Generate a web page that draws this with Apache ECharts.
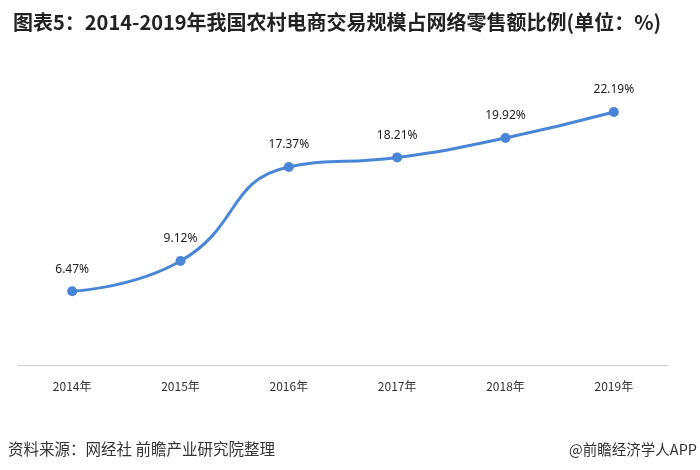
<!DOCTYPE html>
<html>
<head>
<meta charset="utf-8">
<script src="https://cdn.jsdelivr.net/npm/echarts@6/dist/echarts.min.js"></script>
<style>
  html, body { margin: 0; padding: 0; background: #fff; }
  #chart { width: 700px; height: 470px; }
</style>
</head>
<body>
<div id="chart"></div>
<script>
// 数据
var years = ['2014年', '2015年', '2016年', '2017年', '2018年', '2019年'];
var shares = [6.47, 9.12, 17.37, 18.21, 19.92, 22.19];

var chart = echarts.init(document.getElementById('chart'));
var option = {
  backgroundColor: '#fff',
  title: {
    text: '图表5：2014-2019年我国农村电商交易规模占网络零售额比例(单位：%)',
    left: 8,
    top: 7,
    textStyle: {
      fontFamily: 'Noto Sans CJK SC',
      fontWeight: 'bold',
      fontSize: 20,
      color: '#222'
    }
  },
  grid: { left: 18, right: 32, top: 80, bottom: 105 },
  xAxis: {
    type: 'category',
    data: years,
    axisLine: { lineStyle: { color: '#cfcfcf', width: 1 } },
    axisTick: { show: false },
    axisLabel: {
      margin: 15,
      fontSize: 12,
      color: '#333',
      fontFamily: 'Noto Sans CJK SC'
    }
  },
  yAxis: {
    type: 'value',
    min: 0,
    max: 25,
    show: false,
    splitLine: { show: false }
  },
  series: [{
    type: 'line',
    data: shares,
    smooth: true,
    symbol: 'circle',
    symbolSize: 10,
    lineStyle: { color: '#4a86d8', width: 3 },
    itemStyle: { color: '#4a86d8' },
    label: {
      show: true,
      position: 'top',
      distance: 11,
      fontSize: 12,
      color: '#222',
      fontFamily: 'Noto Sans',
      formatter: function (p) { return p.value.toFixed(2) + '%'; }
    }
  }],
  graphic: [
    {
      type: 'text',
      left: 8,
      top: 441,
      style: {
        text: '资料来源：网经社 前瞻产业研究院整理',
        fontSize: 15.5,
        fill: '#333',
        fontFamily: 'Noto Sans CJK SC'
      }
    },
    {
      type: 'text',
      right: 3,
      top: 442,
      style: {
        text: '@前瞻经济学人APP',
        fontSize: 14.5,
        fill: '#333',
        fontFamily: 'Noto Sans CJK SC'
      }
    }
  ]
};
chart.setOption(option);
window.onresize = function () {
  chart.resize();
};
</script>
</body>
</html>
